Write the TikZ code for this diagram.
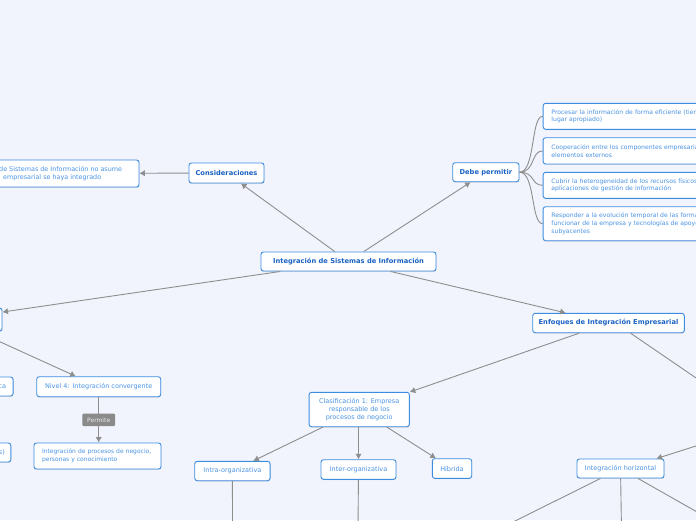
\documentclass[tikz,border=0pt]{standalone}
\usepackage{fontspec}
\setmainfont{DejaVu Sans}
\usetikzlibrary{arrows.meta,calc,shadows}
\definecolor{bgc}{HTML}{F1F4FD}
\definecolor{bordc}{HTML}{3C8CE0}
\definecolor{darkt}{HTML}{1A62C4}
\definecolor{lightt}{HTML}{4B93E3}
\definecolor{linec}{HTML}{8E8E8E}
\definecolor{labc}{HTML}{8A8A8A}
\tikzset{
  box/.style={draw=bordc, fill=white, line width=0.9pt, rounded corners=2.5pt, inner sep=0pt,
    text=lightt, font=\fontsize{6.5}{7.8}\selectfont, align=center,
    drop shadow={shadow xshift=0.3pt, shadow yshift=-0.9pt, opacity=0.25}},
  mainbox/.style={box, text=darkt, font=\fontsize{6.7}{7.8}\selectfont\bfseries},
  longbox/.style={box, anchor=west, font=\fontsize{6.1}{7.7}\selectfont, align=left,
    text width=200pt, inner xsep=8.3pt},
  conn/.style={draw=linec, line width=0.9pt},
  arr/.style={conn, -{Latex[length=5.5pt,width=6.5pt]}},
  lab/.style={fill=labc, text=white!92!black, rounded corners=1pt, inner sep=0pt,
    font=\fontsize{6}{7}\selectfont},
}
\begin{document}
\begin{tikzpicture}[x=1pt,y=-1pt]
\clip (0,0) rectangle (696,520);
\fill[bgc] (0,0) rectangle (696,520);

% nodes
\node[mainbox, minimum width=175pt, minimum height=19pt] (central) at (348.5,261.5) {Integración de Sistemas de Información};
\node[mainbox, minimum width=75pt, minimum height=20pt] (cons) at (226.5,173) {Consideraciones};
\node[box, minimum width=179pt, minimum height=27pt] (note) at (49.5,173.5) {};
\node[anchor=west, align=left, text=lightt, font=\fontsize{6.4}{7.9}\selectfont, inner sep=0pt] (notetext) at (-1,173.5) {de Sistemas de Información no asume\\\hspace*{4pt}empresarial se haya integrado};
\node[mainbox, minimum width=66.3pt, minimum height=19pt] (dp) at (485.85,172.2) {Debe permitir};

\node[longbox, minimum height=26pt] (pa) at (542.7,116.3) {Procesar la información de forma eficiente (tiempo\\lugar apropiado)};
\node[longbox, minimum height=26.3pt] (pb) at (542.7,150.85) {Cooperación entre los componentes empresariales\\elementos externos};
\node[longbox, minimum height=26pt] (pc) at (542.7,185.3) {Cubrir la heterogeneidad de los recursos físicos\\aplicaciones de gestión de información};
\node[longbox, minimum height=34pt] (pd) at (542.7,223.7) {Responder a la evolución temporal de las formas\\funcionar de la empresa y tecnologías de apoyo\\subyacentes};

\node[box, minimum width=102pt, minimum height=23pt] (niv) at (-49,319.5) {};
\node[box, anchor=east, minimum width=74pt, minimum height=19pt, align=right, inner xsep=3pt, text width=60pt] (lv3) at (13.5,386.5) {ca};
\node[box, anchor=east, minimum width=72pt, minimum height=19pt, align=right, inner xsep=2.5pt, text width=60pt] (lv2) at (11.3,452.5) {s)};
\node[box, minimum width=124pt, minimum height=20pt] (n4) at (98.7,386.7) {Nivel 4: Integración convergente};
\node[box, minimum width=127pt, minimum height=26pt, align=left, text width=111pt, font=\fontsize{6}{7.7}\selectfont] (proc) at (97.5,456) {Integración de procesos de negocio,\\personas y conocimiento};

\node[mainbox, minimum width=151.6pt, minimum height=19.4pt] (enf) at (608.5,323) {Enfoques de Integración Empresarial};
\node[box, minimum width=100.3pt, minimum height=34.4pt] (clas) at (359.2,409.5) {Clasificación 1: Empresa\\responsable de los\\procesos de negocio};
\node[box, minimum width=75.3pt, minimum height=19.4pt] (intra) at (232.4,471) {Intra-organizativa};
\node[box, minimum width=75pt, minimum height=19.6pt] (inter) at (358.5,469.5) {Inter-organizativa};
\node[box, minimum width=39.4pt, minimum height=19.6pt] (hib) at (452,468.5) {Híbrida};
\node[box, minimum width=87pt, minimum height=19pt] (hor) at (620.5,468.5) {Integración horizontal};

% off-canvas ends
\coordinate (ofA) at (740,408);
\coordinate (ofB) at (740,432);
\coordinate (ofC) at (505,526);
\coordinate (ofD) at (621.5,530);
\coordinate (ofE) at (720,525);
\coordinate (ofF) at (232.5,530);
\coordinate (ofG) at (358,530);

% connectors
\draw[arr] (central) -- (cons);
\draw[arr] (central) -- (dp);
\draw[arr] (central) -- (niv);
\draw[arr] (central) -- (enf);
\draw[arr] (cons) -- (note);
\foreach \t in {pa,pb,pc,pd}{
  \draw[conn] (dp.east) .. controls +(16,0) and +(-12,0) .. (\t.west);
}
\draw[arr] (niv) -- (n4);
\draw[arr] (n4) -- (n4 |- proc.north) node[lab, midway, minimum width=32.6pt, minimum height=12.4pt] (permite) {Permite};
\draw[arr] (enf) -- (clas);
\draw[conn] ($(enf.south)+(22,0)$) -- (ofA);
\draw[arr] (ofB) -- ($(hor.north east)+(-8,0)$);
\draw[arr] (clas) -- (intra);
\draw[arr] (clas.south -| inter) -- (inter);
\draw[arr] (clas) -- (hib);
\draw[conn] (hor) -- (ofC);
\draw[conn] (hor) -- (ofD);
\draw[conn] (hor) -- (ofE);
\draw[conn] (intra) -- (ofF);
\draw[conn] (inter) -- (ofG);
\end{tikzpicture}
\end{document}
